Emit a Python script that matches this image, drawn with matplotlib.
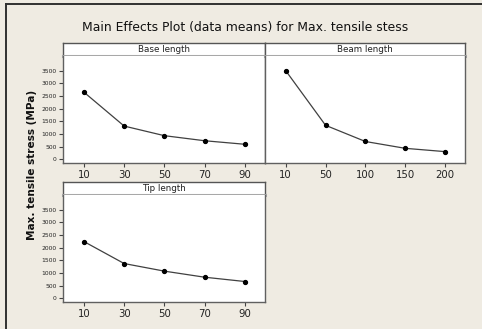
import matplotlib
matplotlib.use("Agg")
import matplotlib.pyplot as plt
from matplotlib.lines import Line2D

W, H = 482, 329
BG = "#EFEBE2"

title = "Main Effects Plot (data means) for Max. tensile stess"
ylabel = "Max. tensile stress (MPa)"

base_levels = ["10", "30", "50", "70", "90"]
base_means = [2650, 1310, 930, 730, 590]

beam_levels = ["10", "50", "100", "150", "200"]
beam_means = [3500, 1340, 700, 430, 300]

tip_levels = ["10", "30", "50", "70", "90"]
tip_means = [2240, 1370, 1070, 830, 660]

yticks = [0, 500, 1000, 1500, 2000, 2500, 3000, 3500]

fig = plt.figure(figsize=(W / 100, H / 100), dpi=100, facecolor=BG)
plt.rcParams["font.family"] = ["DejaVu Sans"]


def px_rect(x0, y0, x1, y1):
    return [x0 / W, 1 - y1 / H, (x1 - x0) / W, (y1 - y0) / H]


def panel(x0, x1, ytop, name, levels, means, show_y):
    strip_h = 13
    sax = fig.add_axes(px_rect(x0, ytop, x1, ytop + strip_h))
    sax.set_facecolor("white")
    sax.set_xticks([]); sax.set_yticks([])
    for s in sax.spines.values():
        s.set_color("#555555"); s.set_linewidth(1.0)
    sax.spines["bottom"].set_color("#A8A8A8"); sax.spines["bottom"].set_linewidth(2.2)
    sax.text(0.5, 0.5, name, ha="center", va="center", fontsize=6.3,
             color="#222222", transform=sax.transAxes)
    ax = fig.add_axes(px_rect(x0, ytop + strip_h, x1, ytop + strip_h + 107))
    ax.set_facecolor("white")
    xs = list(range(1, len(levels) + 1))
    ax.plot(xs, means, color="#404040", lw=0.9, marker="o", ms=2.8,
            mfc="black", mec="black")
    ax.set_xlim(0.48, 5.5)
    ax.set_ylim(-150, 4080)
    ax.set_xticks(xs)
    ax.set_xticklabels(levels, fontsize=7.3, color="#222222")
    ax.tick_params(axis="x", length=3, width=0.8, color="#444444", pad=2)
    if show_y:
        ax.set_yticks(yticks)
        ax.set_yticklabels([str(t) for t in yticks], fontsize=4.3, color="#222222")
        ax.tick_params(axis="y", length=3, width=0.8, color="#444444", pad=1.5)
    else:
        ax.set_yticks([])
    for s in ax.spines.values():
        s.set_color("#606060"); s.set_linewidth(1.0)
    ax.spines["top"].set_visible(False)
    return ax


panel(63, 265, 43, "Base length", base_levels, base_means, True)
panel(265, 465, 43, "Beam length", beam_levels, beam_means, False)
panel(63, 265, 182, "Tip length", tip_levels, tip_means, True)

fig.text(245 / W, 1 - 28 / H, title, ha="center", va="center", fontsize=8.9,
         color="#111111")
fig.text(32 / W, 1 - 165 / H, ylabel, ha="center", va="center", rotation=90,
         fontsize=7.6, fontweight="bold", color="#111111")

fig.add_artist(Line2D([5.5 / W, 5.5 / W], [0, 1 - 3.5 / H], transform=fig.transFigure,
                      color="#303030", lw=1.4))
fig.add_artist(Line2D([5.5 / W, 1], [1 - 3.5 / H, 1 - 3.5 / H], transform=fig.transFigure,
                      color="#303030", lw=1.4))

fig.savefig("out.png", dpi=100, facecolor=BG)
